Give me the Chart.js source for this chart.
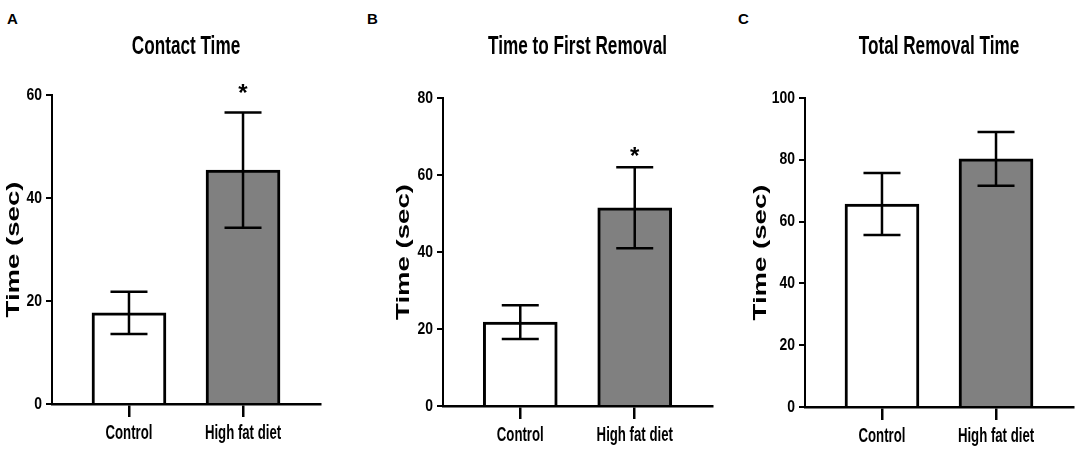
<!DOCTYPE html>
<html>
<head>
<meta charset="utf-8">
<script src="https://cdn.jsdelivr.net/npm/chart.js@4.4.1/dist/chart.umd.min.js"></script>
<style>
  body { margin: 0; background: #fff; }
  .panel { position: absolute; top: 0; height: 460px; }
  .letter { position: absolute; top: 10px; font: bold 15px "Liberation Sans", Arial, sans-serif; }
</style>
</head>
<body>
<div class="letter" style="left:7px">A</div>
<div class="letter" style="left:367px">B</div>
<div class="letter" style="left:738px">C</div>
<div class="panel" style="left:0;width:360px"><canvas id="chartA"></canvas></div>
<div class="panel" style="left:360px;width:360px"><canvas id="chartB"></canvas></div>
<div class="panel" style="left:720px;width:364px"><canvas id="chartC"></canvas></div>
<script>
// group names on the x axis
var groups = ["Control", "High fat diet"];

// means and SEM (seconds)
var contactMean = [17.7, 45.4];
var contactSem = [4.1, 11.2];
var firstMean = [21.8, 51.5];
var firstSem = [4.4, 10.5];
var totalMean = [65.7, 80.3];
var totalSem = [10.0, 8.7];

// significance stars (value where the * sits, null = none)
var contactStar = [null, 61];
var firstStar = [null, 66];
var totalStar = [null, null];

// y axis maxima
var contactMax = 60;
var firstMax = 80;
var totalMax = 100;

var yTitle = "Time (sec)";
var sans = "'Liberation Sans', Arial, sans-serif";
var barColors = ["#ffffff", "#808080"];

// no narrow font installed: squeeze labels like Arial Narrow, stretch the y title
var condensed = {
  id: "condensed",
  beforeInit: function(chart) {
    var ctx = chart.ctx;
    var orig = ctx.fillText.bind(ctx);
    ctx.fillText = function(text, x, y) {
      if (text === "*") { orig(text, x, y); return; }
      var k = 0.66;
      if (text === yTitle) k = 1.45;
      else if (/^\d+$/.test(text)) k = 0.82;
      ctx.save();
      ctx.translate(x, y);
      ctx.scale(k, 1);
      orig(text, 0, 0);
      ctx.restore();
    };
  }
};

// draws the error bars and stars using the chart scales
var errorBars = {
  id: "errorBars",
  afterDatasetsDraw: function(chart, args, opts) {
    var ctx = chart.ctx;
    var y = chart.scales.y;
    var meta = chart.getDatasetMeta(0);
    var ds = chart.data.datasets[0];
    ctx.save();
    ctx.strokeStyle = "#000";
    ctx.lineWidth = 2.5;
    meta.data.forEach(function(bar, i) {
      var m = ds.data[i].y;
      var top = y.getPixelForValue(m + opts.sem[i]);
      var bot = y.getPixelForValue(m - opts.sem[i]);
      ctx.beginPath();
      ctx.moveTo(bar.x, top); ctx.lineTo(bar.x, bot);
      ctx.moveTo(bar.x - 18.5, top); ctx.lineTo(bar.x + 18.5, top);
      ctx.moveTo(bar.x - 18.5, bot); ctx.lineTo(bar.x + 18.5, bot);
      ctx.stroke();
      if (opts.stars[i] != null) {
        ctx.fillStyle = "#000";
        ctx.font = "bold 24px " + sans;
        ctx.textAlign = "center";
        ctx.textBaseline = "middle";
        ctx.fillText("*", bar.x, y.getPixelForValue(opts.stars[i]) + 5);
      }
    });
    ctx.restore();
  }
};

function makeChart(id, title, means, sems, stars, ymax, p) {
  var points = means.map(function(v, i) { return { x: i, y: v }; });
  return new Chart(document.getElementById(id), {
    type: "bar",
    data: {
      datasets: [{
        data: points,
        backgroundColor: barColors,
        borderColor: "#000",
        borderWidth: 3,
        borderSkipped: "start",
        barThickness: 74
      }]
    },
    options: {
      responsive: true,
      maintainAspectRatio: false,
      animation: false,
      layout: { padding: { left: p.left, right: p.right, top: 0, bottom: 0 } },
      plugins: {
        legend: { display: false },
        tooltip: { enabled: false },
        title: {
          display: true,
          fullSize: false,
          text: title,
          color: "#000",
          font: { family: sans, size: 26, weight: "bold", lineHeight: 1.2 },
          padding: { top: 31, bottom: p.top - 31 - 31.2 }
        },
        errorBars: { sem: sems, stars: stars }
      },
      scales: {
        x: {
          type: "linear",
          offset: false,
          min: -0.675,
          max: 1.675,
          afterBuildTicks: function(s) { s.ticks = groups.map(function(g, i) { return { value: i }; }); },
          afterFit: function(s) { s.height = p.xh; },
          border: { color: "#000", width: 2.5 },
          grid: { offset: false, drawOnChartArea: false, drawTicks: true, tickLength: 13, color: "#000", lineWidth: 2.5 },
          ticks: {
            color: "#000",
            padding: 4,
            maxRotation: 0,
            autoSkip: false,
            font: { family: sans, size: 20, weight: "bold" },
            callback: function(v) { return groups[v]; }
          }
        },
        y: {
          min: 0,
          max: ymax,
          afterFit: function(s) { s.width = p.yw; },
          border: { color: "#000", width: 2 },
          grid: { drawOnChartArea: false, drawTicks: true, tickLength: 6, color: "#000", lineWidth: 2 },
          ticks: {
            stepSize: 20,
            color: "#000",
            padding: 4,
            font: { family: sans, size: 17, weight: "bold" }
          },
          title: {
            display: true,
            text: yTitle,
            color: "#000",
            padding: { top: 2, bottom: 0 },
            font: { family: sans, size: 19, weight: "bold" }
          }
        }
      }
    },
    plugins: [condensed, errorBars]
  });
}

makeChart("chartA", "Contact Time", contactMean, contactSem, contactStar, contactMax,
  { left: 0, right: 40, top: 95, yw: 52, xh: 56 });
makeChart("chartB", "Time to First Removal", firstMean, firstSem, firstStar, firstMax,
  { left: 30, right: 8, top: 98, yw: 53, xh: 54 });
makeChart("chartC", "Total Removal Time", totalMean, totalSem, totalStar, totalMax,
  { left: 27, right: 11, top: 98, yw: 58, xh: 53 });
</script>
</body>
</html>
